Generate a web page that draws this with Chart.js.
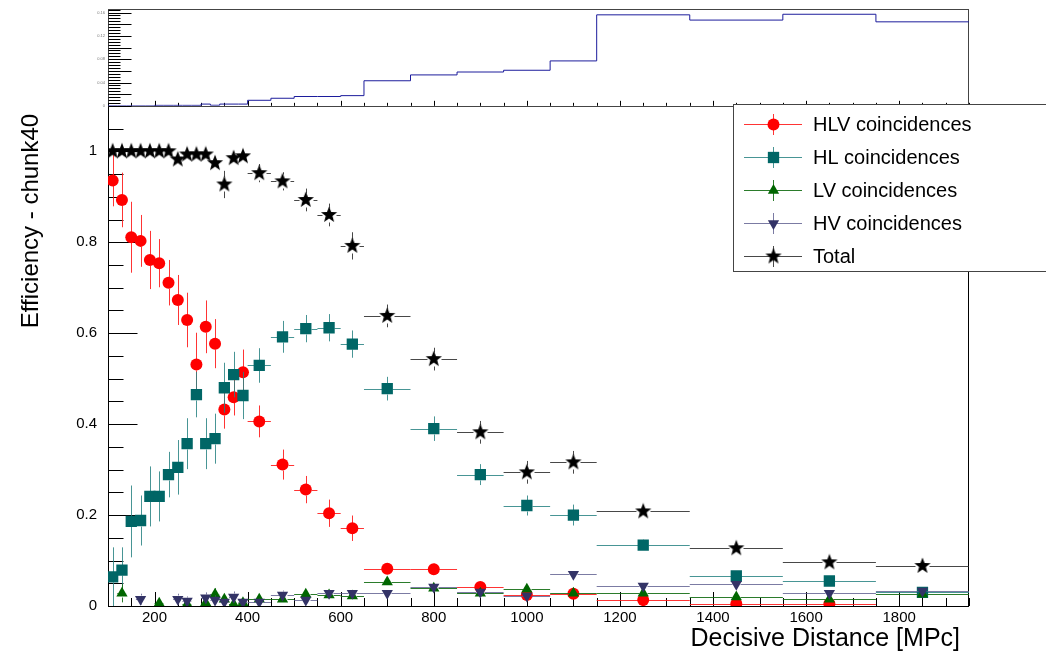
<!DOCTYPE html>
<html>
<head>
<meta charset="utf-8">
<title>Efficiency - chunk40</title>
<script src="https://cdn.jsdelivr.net/npm/chart.js@4/dist/chart.umd.min.js"></script>
<style>
  html, body { margin: 0; padding: 0; background: #fff; }
  #wrap { position: relative; width: 1046px; height: 657px; }
</style>
</head>
<body>
<div id="wrap"><canvas id="effChart" width="1046" height="657"></canvas></div>
<script>
// bin edges in MPc (20 wide at low distance, then 50, 100 and 200)
const binEdges = [100, 120, 140, 160, 180, 200, 220, 240, 260, 280, 300, 320, 340, 360, 380, 400,
  450, 500, 550, 600, 650, 750, 850, 950, 1050, 1150, 1350, 1550, 1750, 1950];

// efficiencies per bin (null = no point)
const hlv = [0.936, 0.893, 0.811, 0.803, 0.761, 0.754, 0.711, 0.673, 0.629, 0.531, 0.614, 0.577, 0.432, 0.459, 0.514,
  0.406, 0.311, 0.256, 0.204, 0.171, 0.082, 0.081, 0.042, 0.024, 0.027, 0.013, 0.005, 0.005, null];
const hlvErr = [0.057, 0.06, 0.078, 0.057, 0.064, 0.053, 0.05, 0.055, 0.06, 0.07, 0.058, 0.054, 0.042, 0.04, 0.05,
  0.035, 0.033, 0.03, 0.03, 0.028, 0.012, 0.012, 0.008, 0.006, 0.006, 0.004, 0.003, 0.003, null];

const hl = [0.064, 0.079, 0.186, 0.188, 0.241, 0.241, 0.289, 0.305, 0.357, 0.465, 0.357, 0.368, 0.48, 0.509, 0.463,
  0.529, 0.592, 0.61, 0.612, 0.576, 0.478, 0.39, 0.289, 0.221, 0.2, 0.134, 0.066, 0.055, 0.03];
const hlErr = [0.065, 0.05, 0.079, 0.055, 0.066, 0.055, 0.05, 0.06, 0.056, 0.05, 0.056, 0.055, 0.055, 0.05, 0.052,
  0.038, 0.035, 0.03, 0.03, 0.03, 0.026, 0.027, 0.023, 0.022, 0.023, 0.012, 0.01, 0.008, 0.006];

const lv = [null, 0.028, null, null, null, 0.006, null, null, 0.004, null, 0.007, 0.026, 0.015, 0.004, 0.007,
  0.015, 0.015, 0.026, 0.024, 0.022, 0.053, 0.039, 0.028, 0.037, 0.028, 0.028, 0.02, 0.015, 0.026];
const lvErr = [null, 0.02, null, null, null, 0.006, null, null, 0.006, null, 0.008, 0.013, 0.01, 0.006, 0.008,
  0.01, 0.008, 0.008, 0.008, 0.008, 0.01, 0.008, 0.006, 0.006, 0.006, 0.004, 0.003, 0.003, 0.003];

const hv = [null, null, null, 0.015, null, null, null, 0.015, 0.011, null, 0.018, 0.013, 0.009, 0.02, 0.009,
  0.009, 0.024, 0.013, 0.028, 0.028, 0.028, 0.042, 0.031, 0.022, 0.07, 0.044, 0.048, 0.028, 0.033];
const hvErr = [null, null, null, 0.012, null, null, null, 0.012, 0.01, null, 0.012, 0.01, 0.008, 0.012, 0.008,
  0.008, 0.01, 0.008, 0.008, 0.008, 0.008, 0.008, 0.006, 0.005, 0.008, 0.005, 0.004, 0.003, 0.003];

const total = [1.0, 1.0, 1.0, 1.0, 1.0, 1.0, 1.0, 0.982, 0.993, 0.993, 0.993, 0.974, 0.927, 0.985, 0.989,
  0.952, 0.934, 0.893, 0.86, 0.792, 0.638, 0.543, 0.382, 0.294, 0.316, 0.208, 0.127, 0.096, 0.088];
const totalErr = [0.01, 0.01, 0.01, 0.01, 0.01, 0.01, 0.01, 0.015, 0.01, 0.01, 0.01, 0.015, 0.03, 0.012, 0.01,
  0.02, 0.02, 0.025, 0.025, 0.03, 0.025, 0.025, 0.025, 0.025, 0.025, 0.015, 0.012, 0.01, 0.008];

// top pad: fraction of injections per bin
const histValues = [0, 0, 0, 0, 0, 0.0008, 0.0008, 0.0008, 0.0008, 0.0008, 0.003, 0.001, 0.003, 0.003, 0.003,
  0.0095, 0.013, 0.016, 0.016, 0.0175, 0.043, 0.053, 0.058, 0.061, 0.077, 0.156, 0.147, 0.157, 0.144];

const xTicks = [200, 400, 600, 800, 1000, 1200, 1400, 1600, 1800];
const yTicks = [0, 0.2, 0.4, 0.6, 0.8, 1];
const topTicks = [0, 0.02, 0.04, 0.06, 0.08, 0.1, 0.12, 0.14, 0.16];

const xTitle = 'Decisive Distance [MPc]';
const yTitle = 'Efficiency - chunk40';

const FONT = '"Liberation Sans", Arial, Helvetica, sans-serif';

function binCenter(i) {
  return (binEdges[i] + binEdges[i + 1]) / 2;
}

function toPoints(vals) {
  return vals.map((v, i) => ({ x: binCenter(i), y: v }));
}

// filled five point star like ROOT marker 29
function makeStar(size, color) {
  const c = document.createElement('canvas');
  c.width = size;
  c.height = size;
  const g = c.getContext('2d');
  const cx = size / 2, cy = size / 2, R = size / 2 - 0.5, r = R * 0.42;
  g.beginPath();
  for (let k = 0; k < 10; k++) {
    const rad = k % 2 ? r : R;
    const a = -Math.PI / 2 + k * Math.PI / 5;
    g.lineTo(cx + rad * Math.cos(a), cy + rad * Math.sin(a));
  }
  g.closePath();
  g.fillStyle = color;
  g.fill();
  return c;
}

const starImg = makeStar(18, '#000');

// histogram as a step line: one point per left edge, plus the last right edge
const histData = histValues.map((v, i) => ({ x: binEdges[i], y: v }));
histData.push({ x: binEdges[binEdges.length - 1], y: histValues[histValues.length - 1] });

function markerSet(label, vals, errs, style, color, barColor, radius, gap, order, rotation) {
  return {
    type: 'scatter',
    label: label,
    data: toPoints(vals),
    errors: errs,
    yAxisID: 'y',
    pointStyle: style,
    pointRadius: radius,
    pointRotation: rotation || 0,
    pointBackgroundColor: color,
    pointBorderColor: color,
    pointBorderWidth: 0,
    barColor: barColor,
    gap: gap,
    order: order,
    inLegend: true
  };
}

function tick(ctx, x1, y1, x2, y2) {
  ctx.beginPath();
  ctx.moveTo(x1, y1);
  ctx.lineTo(x2, y2);
  ctx.stroke();
}

function drawMarker(ctx, ds, x, y) {
  const r = ds.pointRadius;
  ctx.save();
  ctx.fillStyle = ds.pointBackgroundColor;
  if (ds.pointStyle === 'circle') {
    ctx.beginPath();
    ctx.arc(x, y, r, 0, Math.PI * 2);
    ctx.fill();
  } else if (ds.pointStyle === 'rect') {
    const s = r * Math.SQRT1_2;
    ctx.fillRect(x - s, y - s, 2 * s, 2 * s);
  } else if (ds.pointStyle === 'triangle') {
    const rot = (ds.pointRotation || 0) * Math.PI / 180;
    ctx.beginPath();
    for (let k = 0; k < 3; k++) {
      const a = rot - Math.PI / 2 + k * 2 * Math.PI / 3;
      ctx.lineTo(x + r * Math.cos(a), y + r * Math.sin(a));
    }
    ctx.closePath();
    ctx.fill();
  } else {
    const img = ds.pointStyle;
    ctx.drawImage(img, x - img.width / 2, y - img.height / 2);
  }
  ctx.restore();
}

// no label overhang padding, the pads must sit at fixed places
function noPad(s) {
  s.paddingTop = 0;
  s.paddingBottom = 0;
  s.paddingLeft = 0;
  s.paddingRight = 0;
}

const rootStyle = {
  id: 'rootStyle',
  beforeDatasetsDraw(chart) {
    const ctx = chart.ctx;
    const xs = chart.scales.x, ys = chart.scales.y, yt = chart.scales.yTop;
    const L = 108.5, R = 968.5;
    const mainTop = ys.top, mainBottom = ys.bottom;
    ctx.save();
    ctx.lineWidth = 1;
    ctx.strokeStyle = '#000';

    ctx.strokeRect(L, Math.round(mainTop) + 0.5, R - L, Math.round(mainBottom) - Math.round(mainTop));
    ctx.strokeStyle = '#444';
    ctx.strokeRect(L, Math.round(yt.top) + 0.5, R - L, Math.round(yt.bottom) - Math.round(yt.top));

    ctx.strokeStyle = '#000';
    for (let v = 100; v <= 1950; v += 50) {
      const px = Math.round(xs.getPixelForValue(v)) + 0.5;
      const major = v % 200 === 0;
      tick(ctx, px, mainBottom, px, mainBottom - (major ? 14 : 8));
      tick(ctx, px, yt.bottom, px, yt.bottom - (major ? 5 : 3));
    }
    for (let k = 0; k <= 22; k++) {
      const py = Math.round(ys.getPixelForValue(k * 0.05)) + 0.5;
      tick(ctx, L, py, L + (k % 4 === 0 ? 29 : 15), py);
    }
    for (let k = 0; k <= 33; k++) {
      const py = Math.round(yt.getPixelForValue(k * 0.005)) + 0.5;
      tick(ctx, L, py, L + (k % 4 === 0 ? 23 : 12), py);
    }
    ctx.restore();
  },
  beforeDatasetDraw(chart, args) {
    const ds = chart.data.datasets[args.index];
    if (!ds.errors) return;
    const ctx = chart.ctx;
    const xs = chart.scales.x, ys = chart.scales.y;
    ctx.save();
    ctx.strokeStyle = ds.barColor;
    ctx.lineWidth = 1;
    ds.data.forEach((p, i) => {
      if (p.y === null) return;
      const px = Math.round(xs.getPixelForValue(p.x)) + 0.5;
      const py = Math.round(ys.getPixelForValue(p.y)) + 0.5;
      const xl = xs.getPixelForValue(binEdges[i]);
      const xr = xs.getPixelForValue(binEdges[i + 1]);
      const e = ds.errors[i] || 0;
      const yTop = ys.getPixelForValue(Math.min(1, p.y + e));
      const yBot = ys.getPixelForValue(Math.max(0, p.y - e));
      const g = ds.gap;
      if (px - g > xl) tick(ctx, xl, py, px - g, py);
      if (xr > px + g) tick(ctx, px + g, py, xr, py);
      if (yTop < py - g) tick(ctx, px, yTop, px, py - g);
      if (yBot > py + g) tick(ctx, px, py + g, px, yBot);
    });
    ctx.restore();
  },
  afterDraw(chart) {
    const ctx = chart.ctx;
    const xs = chart.scales.x, ys = chart.scales.y;
    ctx.save();

    // axis titles, ROOT puts them at the axis ends
    ctx.fillStyle = '#000';
    ctx.font = '25px ' + FONT;
    ctx.textAlign = 'right';
    ctx.textBaseline = 'middle';
    ctx.fillText(xTitle, xs.right - 9, 639);
    ctx.save();
    ctx.translate(31, ys.top + 8);
    ctx.rotate(-Math.PI / 2);
    ctx.font = '24px ' + FONT;
    ctx.textAlign = 'right';
    ctx.fillText(yTitle, 0, 0);
    ctx.restore();

    // legend box, runs past the right edge like the original
    ctx.fillStyle = '#fff';
    ctx.strokeStyle = '#444';
    ctx.lineWidth = 1;
    ctx.fillRect(733.5, 104.5, 400, 167);
    ctx.strokeRect(733.5, 104.5, 400, 167);
    const entries = chart.data.datasets.filter(d => d.inLegend);
    entries.forEach((ds, k) => {
      const y = 124 + k * 33;
      ctx.strokeStyle = ds.barColor;
      tick(ctx, 744, y + 0.5, 802, y + 0.5);
      tick(ctx, 773.5, y - 10, 773.5, y + 11);
      drawMarker(ctx, ds, 773.5, y + 0.5);
      ctx.fillStyle = '#000';
      ctx.font = '20px ' + FONT;
      ctx.textBaseline = 'middle';
      ctx.textAlign = 'left';
      ctx.fillText(ds.label, 813, y + 1);
    });
    ctx.restore();
  }
};

const datasets = [
  markerSet('HLV coincidences', hlv, hlvErr, 'circle', '#ff0000', 'rgba(255,30,30,0.9)', 6, 5, 5),
  markerSet('HL coincidences', hl, hlErr, 'rect', '#006666', 'rgba(40,130,130,0.85)', 8, 5, 4),
  markerSet('LV coincidences', lv, lvErr, 'triangle', '#006600', 'rgba(20,110,20,0.9)', 6.5, 4, 3),
  markerSet('HV coincidences', hv, hvErr, 'triangle', '#333366', 'rgba(90,90,140,0.8)', 6.5, 4, 2, 180),
  markerSet('Total', total, totalErr, starImg, '#000', 'rgba(40,40,40,0.85)', 9, 7, 1),
  {
    type: 'line',
    label: 'injections',
    data: histData,
    yAxisID: 'yTop',
    stepped: 'before',
    borderColor: '#1c1c9c',
    borderWidth: 1,
    pointRadius: 0,
    fill: false,
    order: 6
  }
];

new Chart(document.getElementById('effChart'), {
  type: 'scatter',
  data: { datasets: datasets },
  options: {
    responsive: false,
    animation: false,
    devicePixelRatio: 1,
    layout: { padding: { top: 8, right: 77, left: 0, bottom: 0 } },
    plugins: {
      legend: { display: false },
      tooltip: { enabled: false }
    },
    scales: {
      x: {
        type: 'linear',
        position: 'bottom',
        min: 100,
        max: 1950,
        afterBuildTicks: s => { s.ticks = xTicks.map(v => ({ value: v })); },
        afterFit: s => { s.height = 51; noPad(s); },
        grid: { display: false, drawTicks: false },
        border: { display: false },
        ticks: { color: '#000', font: { family: FONT, size: 15 }, padding: 3, maxRotation: 0, autoSkip: false,
          callback: v => String(v) }
      },
      y: {
        type: 'linear',
        position: 'left',
        stack: 'pads',
        stackWeight: 501,
        min: 0,
        max: 1.1,
        afterBuildTicks: s => { s.ticks = yTicks.map(v => ({ value: v })); },
        afterFit: s => { s.width = 108; noPad(s); },
        grid: { display: false, drawTicks: false },
        border: { display: false },
        ticks: { color: '#000', font: { family: FONT, size: 15 }, padding: 11, callback: v => String(v) }
      },
      yTop: {
        type: 'linear',
        position: 'left',
        stack: 'pads',
        stackWeight: 97,
        min: 0,
        max: 0.166,
        afterBuildTicks: s => { s.ticks = topTicks.map(v => ({ value: v })); },
        afterFit: s => { s.width = 108; noPad(s); },
        grid: { display: false, drawTicks: false },
        border: { display: false },
        ticks: { color: '#777', font: { family: FONT, size: 4 }, padding: 3, callback: v => String(v) }
      }
    }
  },
  plugins: [rootStyle]
});
</script>
</body>
</html>
